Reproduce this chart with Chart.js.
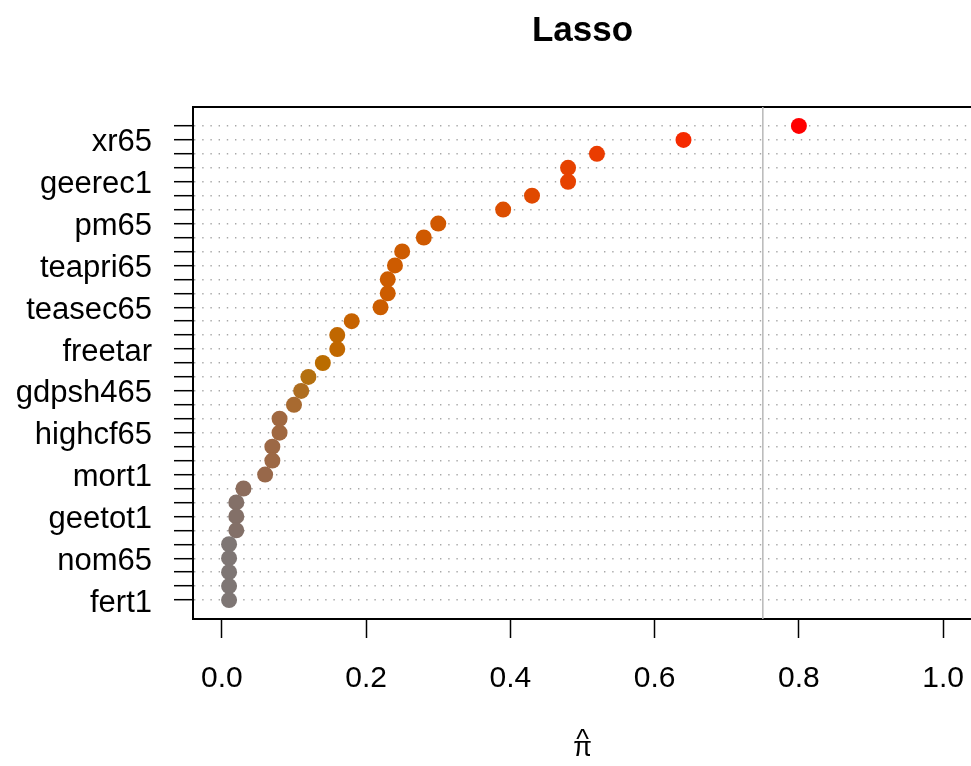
<!DOCTYPE html>
<html>
<head>
<meta charset="utf-8">
<script src="https://cdn.jsdelivr.net/npm/chart.js@4.4.1/dist/chart.umd.min.js"></script>
<style>
    html, body { margin: 0; padding: 0; background: #ffffff; overflow: hidden; }
    #wrap { width: 980px; height: 766px; }
</style>
</head>
<body>
<div id="wrap"><canvas id="lassoChart" width="980" height="766"></canvas></div>
<script>
// Variables, top row first ('' = row without a printed name)
const variables = [
    '', 'xr65', '', '', 'geerec1', '', '', 'pm65', '', '', 'teapri65', '', '',
    'teasec65', '', '', 'freetar', '', '', 'gdpsh465', '', '', 'highcf65', '', '',
    'mort1', '', '', 'geetot1', '', '', 'nom65', '', '', 'fert1'
];
// Selection probability, same order
const piHat = [
    0.80, 0.64, 0.52, 0.48, 0.48, 0.43, 0.39, 0.30, 0.28, 0.25, 0.24, 0.23,
    0.23, 0.22, 0.18, 0.16, 0.16, 0.14, 0.12, 0.11, 0.10, 0.08, 0.08, 0.07,
    0.07, 0.06, 0.03, 0.02, 0.02, 0.02, 0.01, 0.01, 0.01, 0.01, 0.01
];
const xTicks = [0, 0.2, 0.4, 0.6, 0.8, 1.0];
const threshold = 0.75;

const nRows = piHat.length;
const yMin = 1 - 0.04 * (nRows - 1);
const yMax = nRows + 0.04 * (nRows - 1);

// colour ramp gray -> brown -> orange -> red
const colorStops = [
    [0.01, [126, 118, 116]], [0.02, [131, 112, 104]], [0.03, [140, 108, 92]],
    [0.06, [152, 104, 74]], [0.08, [160, 104, 64]], [0.10, [168, 106, 48]],
    [0.12, [180, 112, 16]], [0.14, [186, 108, 0]], [0.18, [198, 98, 0]],
    [0.23, [204, 92, 0]], [0.30, [208, 88, 0]], [0.39, [220, 78, 0]],
    [0.48, [230, 66, 0]], [0.64, [245, 42, 0]], [0.80, [255, 0, 0]]
];
function rampColor(v) {
    if (v <= colorStops[0][0]) return 'rgb(' + colorStops[0][1].join(',') + ')';
    for (let i = 1; i < colorStops.length; i++) {
        const [v1, c1] = colorStops[i];
        const [v0, c0] = colorStops[i - 1];
        if (v <= v1) {
            const t = (v - v0) / (v1 - v0);
            const c = c0.map((a, k) => Math.round(a + (c1[k] - a) * t));
            return 'rgb(' + c.join(',') + ')';
        }
    }
    return 'rgb(255,0,0)';
}

// keep the plot box where the reference has it
function noPadding(scale) {
    scale.paddingLeft = 0;
    scale.paddingRight = 0;
    scale.paddingTop = 0;
    scale.paddingBottom = 0;
}

Chart.defaults.font.family = '"Liberation Sans", Arial, sans-serif';
Chart.defaults.color = '#000000';

const points = piHat.map((v, i) => ({ x: v, y: nRows - i }));

const ctx = document.getElementById('lassoChart').getContext('2d');
new Chart(ctx, {
    type: 'scatter',
    data: {
        datasets: [{
            data: points,
            pointBackgroundColor: piHat.map(rampColor),
            pointBorderWidth: 0,
            pointRadius: 8,
            pointHoverRadius: 8,
            order: 1
        }, {
            // cutoff line
            data: [{ x: threshold, y: yMin }, { x: threshold, y: yMax }],
            showLine: true,
            borderColor: '#b8b8b8',
            borderWidth: 1.5,
            pointRadius: 0,
            order: 2
        }]
    },
    options: {
        responsive: false,
        animation: false,
        layout: { padding: { left: 0, right: 8, top: 0, bottom: 0 } },
        plugins: {
            legend: { display: false },
            tooltip: { enabled: false }
        },
        scales: {
            x: {
                type: 'linear',
                position: 'bottom',
                min: -0.04,
                max: 1.04,
                afterBuildTicks: function (scale) {
                    scale.ticks = xTicks.map(v => ({ value: v }));
                },
                afterFit: function (scale) {
                    scale.height = 147;
                    noPadding(scale);
                },
                ticks: {
                    font: { size: 30 },
                    color: '#000000',
                    padding: 23,
                    maxRotation: 0,
                    callback: v => v.toFixed(1)
                },
                grid: {
                    drawOnChartArea: false,
                    drawTicks: true,
                    tickLength: 19,
                    tickColor: '#000000',
                    tickWidth: 1.5
                },
                border: { display: true, color: '#000000', width: 2 },
                title: {
                    display: true,
                    text: ['^', 'π'],
                    font: { size: 27, lineHeight: 0.3 },
                    color: '#000000',
                    padding: { top: 0, bottom: 13 }
                }
            },
            x2: {
                type: 'linear',
                position: 'top',
                min: -0.04,
                max: 1.04,
                afterFit: function (scale) {
                    scale.height = 107;
                    noPadding(scale);
                },
                ticks: { display: false },
                grid: { display: false, drawTicks: false },
                border: { display: true, color: '#000000', width: 2 },
                title: {
                    display: true,
                    text: 'Lasso',
                    font: { size: 35, weight: 'bold' },
                    color: '#000000',
                    padding: { top: 10, bottom: 0 }
                }
            },
            y: {
                type: 'linear',
                min: yMin,
                max: yMax,
                afterBuildTicks: function (scale) {
                    scale.ticks = points.map(p => ({ value: p.y }));
                },
                afterFit: function (scale) {
                    scale.width = 193;
                    noPadding(scale);
                },
                ticks: {
                    autoSkip: false,
                    font: { size: 31 },
                    color: '#000000',
                    padding: 22,
                    labelOffset: 3,
                    callback: v => variables[nRows - v] || ''
                },
                grid: {
                    color: '#a8a8a8',
                    lineWidth: 1.4,
                    drawTicks: true,
                    tickLength: 19,
                    tickColor: '#000000',
                    tickWidth: 1.5,
                    tickBorderDash: []
                },
                border: { display: true, color: '#000000', width: 2, dash: [1.4, 6.8] }
            }
        }
    }
});
</script>
</body>
</html>
